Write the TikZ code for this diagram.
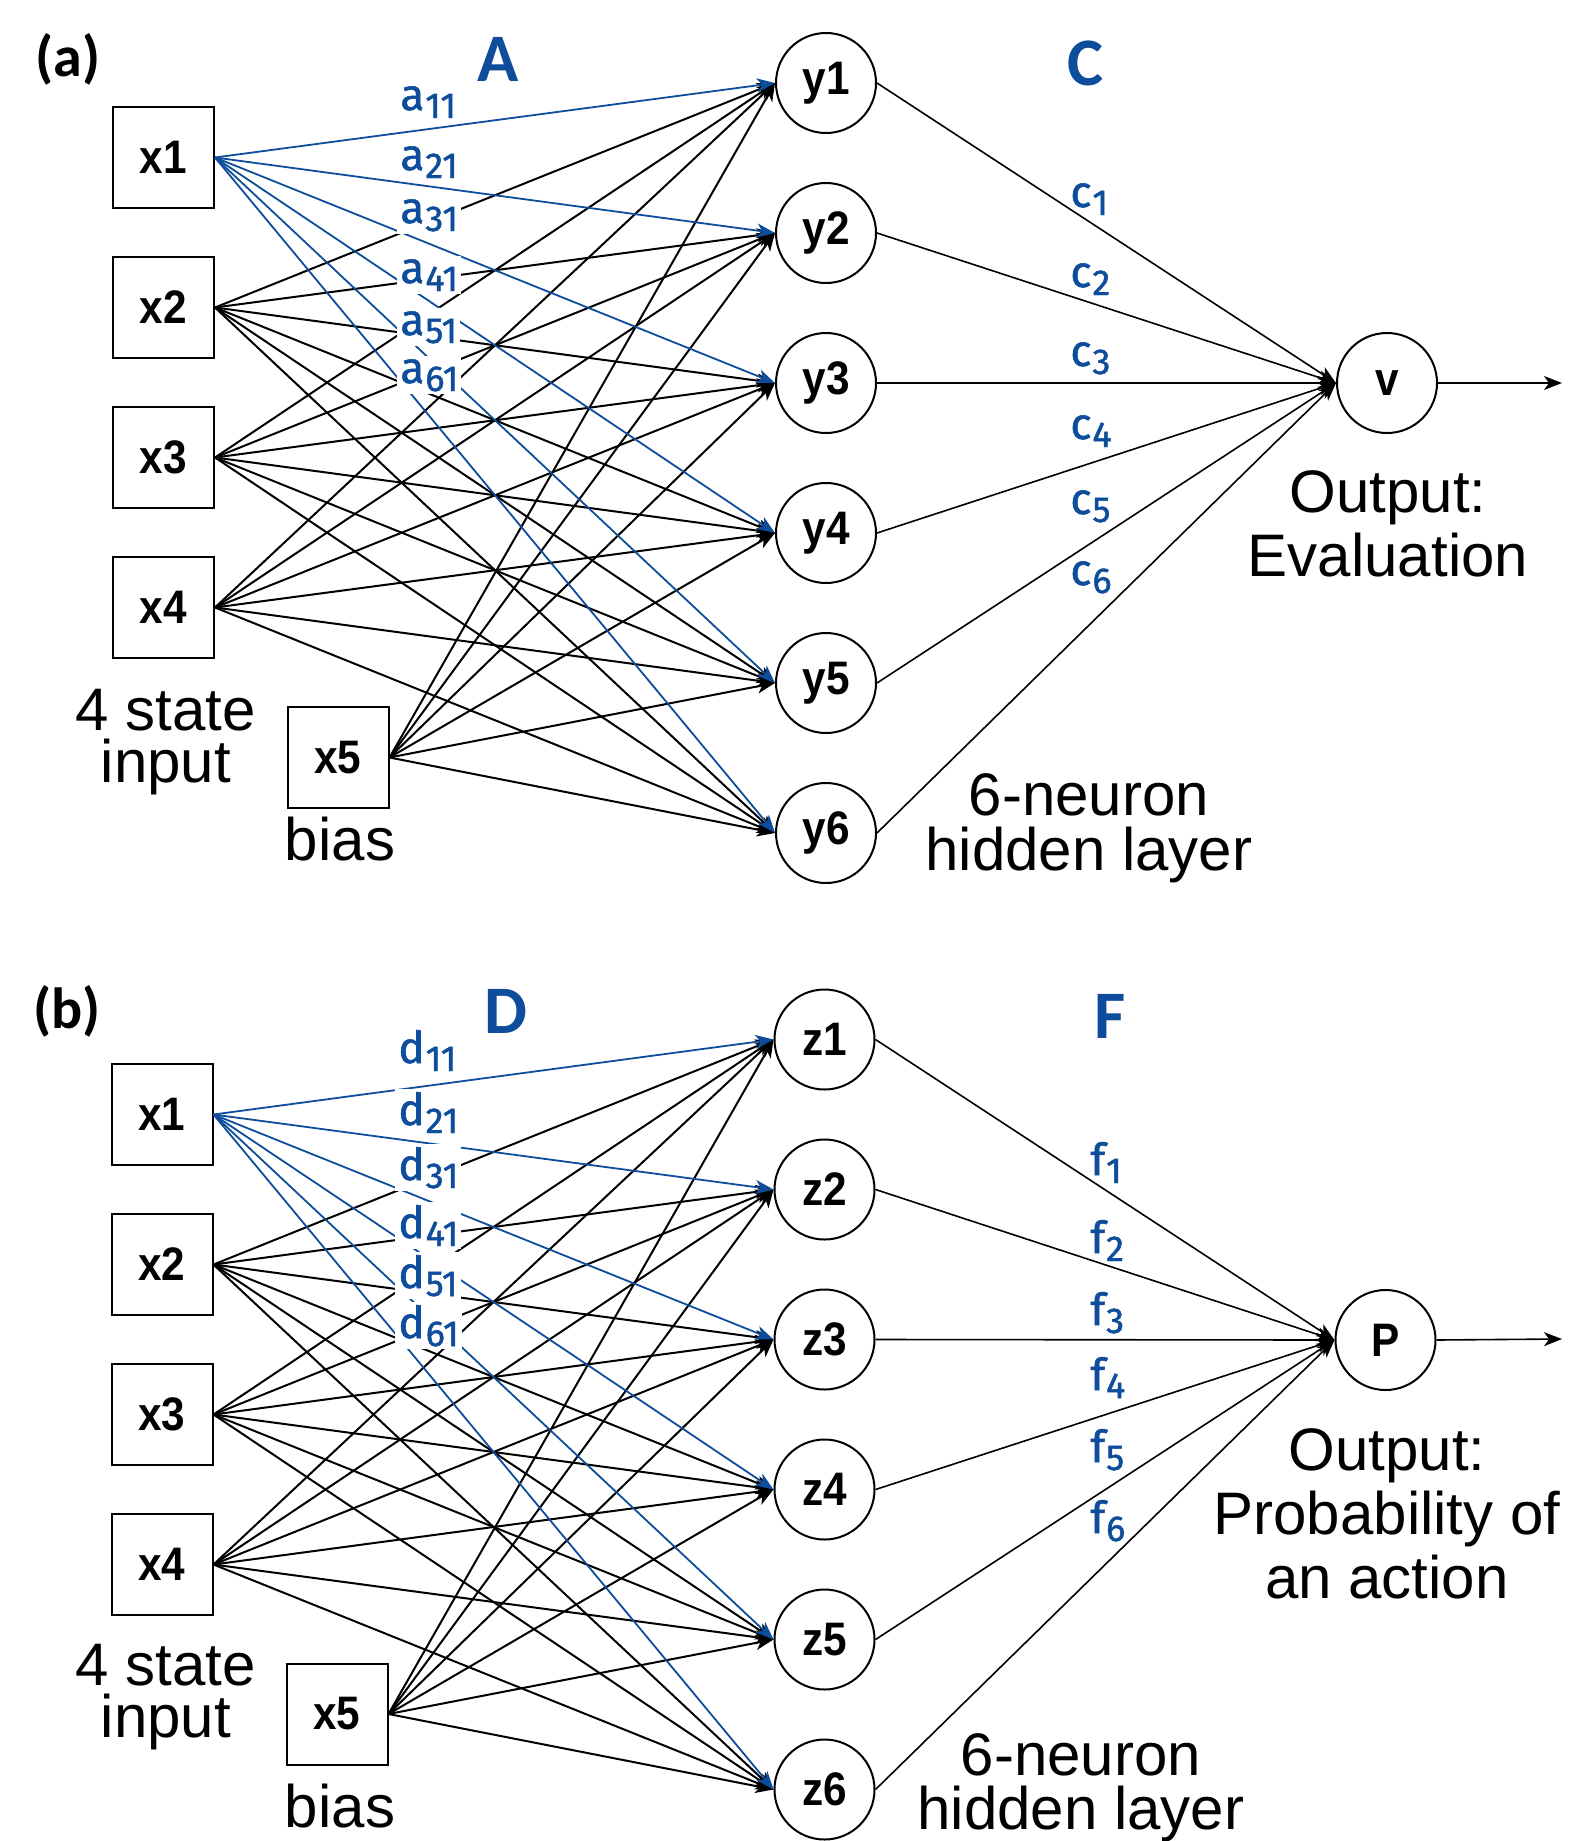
\documentclass[tikz,border=0pt]{standalone}
\usepackage{fontspec}
\setmainfont{Liberation Sans}
\newfontfamily\nodefont[FakeStretch=0.9]{Liberation Sans}
\newfontfamily\calfont{Carlito}
\newfontfamily\wfont[FakeBold=1.3]{Fira Sans}
\usetikzlibrary{arrows.meta}
\definecolor{nnblue}{RGB}{14,77,155}
\newcommand\wsub[2]{#1\kern0.5pt\raisebox{-4pt}{\fontsize{18}{20}\selectfont #2}}
\newcommand\mlines[1]{\vtop{\halign{\hfil##\hfil\cr#1\crcr}}}
\begin{document}
\begin{tikzpicture}[x=0.5pt,y=-0.5pt,
  inbox/.style={draw, line width=1pt, minimum size=50.5pt, inner sep=0pt,
    font=\nodefont\bfseries\fontsize{23.5}{28}\selectfont},
  neuron/.style={draw, circle, line width=1pt, minimum size=50pt, inner sep=0pt,
    font=\nodefont\bfseries\fontsize{23.5}{28}\selectfont},
  conn/.style={line width=1pt, -{Stealth[length=9pt,width=7pt,inset=2.5pt]}},
  bconn/.style={conn, draw=nnblue, line width=0.9pt},
  oconn/.style={line width=0.8pt, -{Stealth[length=9pt,width=7pt,inset=2.5pt]}},
  desc/.style={anchor=base, inner sep=0pt, font=\fontsize{30}{#1}\selectfont},
  desc/.default=34,
  head/.style={anchor=base, inner sep=0pt, text=nnblue, font=\calfont\bfseries\fontsize{34}{40}\selectfont},
  plab/.style={anchor=base west, inner sep=0pt, font=\calfont\bfseries\fontsize{29}{32}\selectfont},
  wl/.style={anchor=base west, text=nnblue, fill=white, inner sep=1.5pt, font=\wfont\fontsize{22}{24}\selectfont},
  wlc/.style={anchor=base west, text=nnblue, inner sep=0pt, font=\wfont\fontsize{22}{24}\selectfont}
]
\useasboundingbox[fill=white] (0,0) rectangle (1586,1841);

% ================= panel (a) =================
\foreach \i in {1,...,4} \node[inbox] (ax\i) at (163.5,{157.5+150*(\i-1)}) {x\i};
\node[inbox] (ax5) at (338,757.5) {x5};
\foreach \j in {1,...,6} \node[neuron] (ay\j) at (826,{83+150*(\j-1)}) {y\j};
\node[neuron] (av) at (1387,383) {v};
\coordinate (aout) at (1562,383);

\foreach \i in {2,...,5} \foreach \j in {1,...,6} \draw[conn] (ax\i.east) -- (ay\j.west);
\foreach \j in {1,...,6} \draw[bconn] (ax1.east) -- (ay\j.west);
\foreach \j in {1,...,6} \draw[oconn] (ay\j.east) -- (av.west);
\draw[oconn] (av.east) -- (aout);

\foreach \k/\yy in {1/110,2/170,3/223,4/283,5/335,6/383}
  \node[wl] (aa\k) at (397,\yy) {\wsub{a}{\k1}};
\foreach \k/\yy in {1/207,2/287,3/366,4/439,5/514,6/585}
  \node[wlc] (ac\k) at (1070,\yy) {\wsub{c}{\k}};

\node[plab] (alab) at (35,76) {(a)};
\node[head] (aA) at (498,82) {A};
\node[head] (aC) at (1085,86) {C};
\node[desc=26] (ast) at (166,730) {\mlines{4 state\cr input}};
\node[desc] (abias) at (340,860) {bias};
\node[desc=27.5] (ahid) at (1089,815) {\mlines{6-neuron\cr hidden layer}};
\node[desc=32] (aoutt) at (1388,512) {\mlines{Output:\cr Evaluation}};

% ================= panel (b) =================
\foreach \i in {1,...,4} \node[inbox] (bx\i) at (162,{1114.5+150*(\i-1)}) {x\i};
\node[inbox] (bx5) at (337,1714) {x5};
\foreach \j in {1,...,6} \node[neuron] (bz\j) at (824.5,{1039.5+150*(\j-1)}) {z\j};
\node[neuron] (bP) at (1385.5,1340) {P};
\coordinate (bout) at (1562,1339);

\foreach \i in {2,...,5} \foreach \j in {1,...,6} \draw[conn] (bx\i.east) -- (bz\j.west);
\foreach \j in {1,...,6} \draw[bconn] (bx1.east) -- (bz\j.west);
\foreach \j in {1,...,6} \draw[oconn] (bz\j.east) -- (bP.west);
\draw[oconn] (bP.east) -- (bout);

\foreach \k/\yy in {1/1063,2/1125,3/1180,4/1238,5/1288,6/1338}
  \node[wl] (bd\k) at (395,\yy) {\wsub{d}{\k1}};
\foreach \k/\yy in {1/1175,2/1253,3/1325,4/1390,5/1462,6/1533}
  \node[wlc] (bf\k) at (1090,\yy) {\wsub{f}{\k}};

\node[plab] (blab) at (33,1028) {(b)};
\node[head] (bD) at (506,1033) {D};
\node[head] (bF) at (1110,1038) {F};
\node[desc=26] (bst) at (166,1685) {\mlines{4 state\cr input}};
\node[desc] (bbias) at (340,1827) {bias};
\node[desc=27] (bhid) at (1081,1775) {\mlines{6-neuron\cr hidden layer}};
\node[desc=32] (boutt) at (1387,1470) {\mlines{Output:\cr Probability of\cr an action}};
\end{tikzpicture}
\end{document}
